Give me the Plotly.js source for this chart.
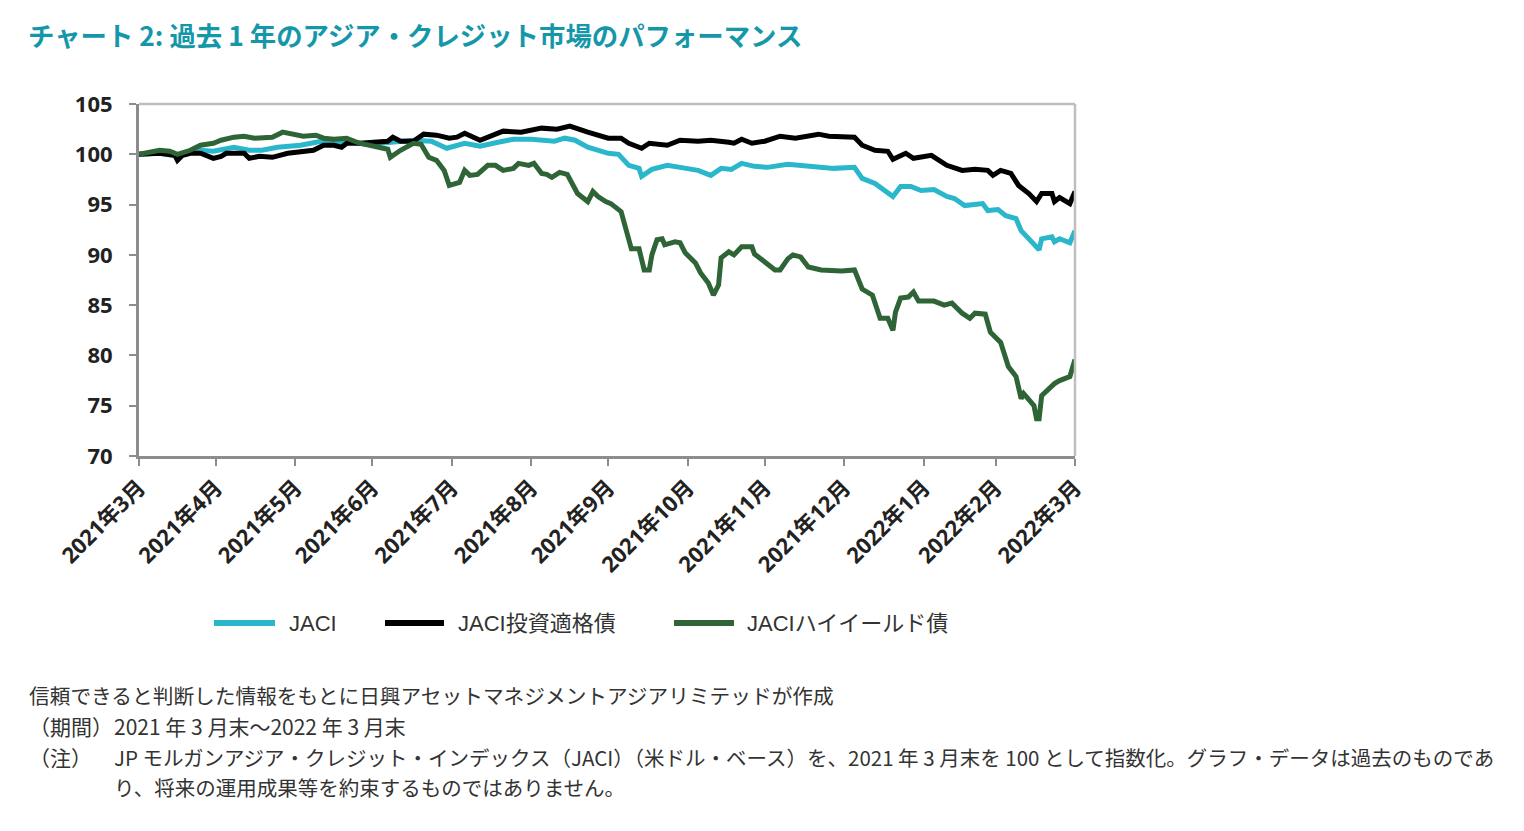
<!DOCTYPE html>
<html>
<head>
<meta charset="utf-8">
<script src="https://cdn.plot.ly/plotly-3.0.1.min.js"></script>
<style>
html,body{margin:0;padding:0;background:#fff;}
#chart{width:1524px;height:831px;}
</style>
</head>
<body>
<div id="chart"></div>
<script>
// ---- data ----
const seriesNames = ["JACI", "JACI投資適格債", "JACIハイイールド債"];

const tickDates = ["2021-03-31","2021-04-30","2021-05-31","2021-06-30","2021-07-31","2021-08-31","2021-09-30","2021-10-31","2021-11-30","2021-12-31","2022-01-31","2022-02-28","2022-03-31"];
const tickLabels = ["2021年3月","2021年4月","2021年5月","2021年6月","2021年7月","2021年8月","2021年9月","2021年10月","2021年11月","2021年12月","2022年1月","2022年2月","2022年3月"];
const yTicks = [70,75,80,85,90,95,100,105];

const jaciDates = ["2021-03-31","2021-04-08","2021-04-15","2021-04-20","2021-04-24","2021-04-29","2021-05-07","2021-05-13","2021-05-18","2021-05-24","2021-06-02","2021-06-10","2021-06-15","2021-06-20","2021-06-25","2021-06-30","2021-07-03","2021-07-08","2021-07-16","2021-07-23","2021-07-29","2021-08-05","2021-08-11","2021-08-18","2021-08-24","2021-08-31","2021-09-09","2021-09-13","2021-09-17","2021-09-22","2021-09-30","2021-10-04","2021-10-08","2021-10-12","2021-10-13","2021-10-17","2021-10-23","2021-10-28","2021-11-04","2021-11-09","2021-11-13","2021-11-17","2021-11-21","2021-11-26","2021-12-01","2021-12-09","2021-12-17","2021-12-21","2021-12-27","2022-01-04","2022-01-07","2022-01-12","2022-01-16","2022-01-19","2022-01-22","2022-01-26","2022-01-30","2022-02-04","2022-02-09","2022-02-12","2022-02-16","2022-02-23","2022-02-25","2022-03-01","2022-03-04","2022-03-08","2022-03-10","2022-03-13","2022-03-17","2022-03-18","2022-03-22","2022-03-23","2022-03-25","2022-03-29","2022-03-31"];
const jaciVals = [100.0,100.1,99.8,100.1,100.4,100.3,100.7,100.4,100.4,100.7,100.9,101.3,101.2,101.3,101.1,100.9,101.1,101.2,101.4,101.3,100.6,101.1,100.8,101.2,101.5,101.5,101.3,101.6,101.4,100.7,100.1,100.0,98.9,98.6,97.8,98.5,98.9,98.7,98.4,97.9,98.6,98.5,99.1,98.8,98.7,99.0,98.8,98.8,98.6,98.7,97.6,97.1,96.4,95.8,96.8,96.8,96.4,96.5,95.8,95.6,94.9,95.1,94.4,94.5,93.9,93.6,92.4,91.6,90.5,91.6,91.8,91.3,91.6,91.2,92.4];

const igDates = ["2021-03-31","2021-04-08","2021-04-14","2021-04-15","2021-04-17","2021-04-20","2021-04-24","2021-04-29","2021-05-02","2021-05-04","2021-05-11","2021-05-13","2021-05-17","2021-05-22","2021-05-28","2021-06-02","2021-06-07","2021-06-11","2021-06-15","2021-06-18","2021-06-20","2021-06-25","2021-07-03","2021-07-06","2021-07-08","2021-07-11","2021-07-16","2021-07-20","2021-07-25","2021-07-30","2021-08-02","2021-08-05","2021-08-11","2021-08-20","2021-08-27","2021-09-04","2021-09-10","2021-09-15","2021-09-22","2021-09-26","2021-09-30","2021-10-05","2021-10-08","2021-10-13","2021-10-16","2021-10-23","2021-10-28","2021-11-04","2021-11-09","2021-11-16","2021-11-18","2021-11-21","2021-11-25","2021-11-30","2021-12-06","2021-12-12","2021-12-21","2021-12-25","2022-01-04","2022-01-07","2022-01-12","2022-01-17","2022-01-19","2022-01-24","2022-01-27","2022-02-03","2022-02-09","2022-02-15","2022-02-20","2022-02-25","2022-02-27","2022-03-02","2022-03-06","2022-03-09","2022-03-13","2022-03-16","2022-03-18","2022-03-22","2022-03-23","2022-03-25","2022-03-29","2022-03-31"];
const igVals = [100.0,100.1,99.9,99.4,99.9,100.1,100.1,99.6,99.8,100.1,100.1,99.6,99.8,99.7,100.1,100.2,100.4,100.9,100.9,100.7,101.1,101.1,101.2,101.3,101.7,101.3,101.3,102.0,101.9,101.6,101.7,102.1,101.4,102.3,102.2,102.6,102.5,102.8,102.2,101.9,101.6,101.6,101.1,100.6,101.1,100.9,101.4,101.3,101.4,101.2,101.1,101.5,101.1,101.3,101.8,101.6,102.0,101.8,101.7,100.9,100.4,100.3,99.5,100.1,99.6,99.9,98.9,98.4,98.5,98.4,97.9,98.4,98.1,96.9,96.1,95.3,96.1,96.1,95.3,95.7,95.1,96.3];

const hyDates = ["2021-03-31","2021-04-08","2021-04-12","2021-04-15","2021-04-20","2021-04-24","2021-04-29","2021-05-02","2021-05-07","2021-05-11","2021-05-15","2021-05-22","2021-05-26","2021-05-30","2021-06-03","2021-06-08","2021-06-11","2021-06-15","2021-06-20","2021-06-25","2021-07-01","2021-07-06","2021-07-07","2021-07-11","2021-07-16","2021-07-19","2021-07-22","2021-07-25","2021-07-28","2021-07-30","2021-08-03","2021-08-05","2021-08-07","2021-08-10","2021-08-14","2021-08-17","2021-08-20","2021-08-24","2021-08-26","2021-08-30","2021-09-01","2021-09-04","2021-09-06","2021-09-08","2021-09-11","2021-09-14","2021-09-18","2021-09-22","2021-09-24","2021-09-26","2021-09-29","2021-10-01","2021-10-05","2021-10-07","2021-10-09","2021-10-12","2021-10-14","2021-10-16","2021-10-17","2021-10-19","2021-10-21","2021-10-22","2021-10-26","2021-10-28","2021-10-30","2021-11-03","2021-11-05","2021-11-08","2021-11-10","2021-11-12","2021-11-13","2021-11-16","2021-11-18","2021-11-21","2021-11-25","2021-11-26","2021-11-30","2021-12-04","2021-12-06","2021-12-09","2021-12-11","2021-12-14","2021-12-17","2021-12-22","2021-12-30","2022-01-04","2022-01-07","2022-01-11","2022-01-14","2022-01-17","2022-01-19","2022-01-20","2022-01-22","2022-01-25","2022-01-27","2022-01-29","2022-02-04","2022-02-08","2022-02-11","2022-02-15","2022-02-18","2022-02-20","2022-02-24","2022-02-26","2022-03-02","2022-03-05","2022-03-08","2022-03-10","2022-03-11","2022-03-15","2022-03-16","2022-03-17","2022-03-18","2022-03-23","2022-03-25","2022-03-29","2022-03-31"];
const hyVals = [100.0,100.4,100.3,100.0,100.4,100.9,101.1,101.4,101.7,101.8,101.6,101.7,102.2,102.0,101.8,101.9,101.6,101.5,101.6,101.1,100.8,100.5,99.7,100.4,101.1,101.0,99.7,99.4,98.4,96.9,97.2,98.4,97.9,98.0,98.9,98.9,98.4,98.6,99.1,98.9,99.1,98.1,98.0,97.7,98.2,98.0,96.1,95.3,96.3,95.8,95.3,95.1,94.3,92.3,90.6,90.6,88.5,88.5,90.0,91.5,91.6,91.0,91.3,91.2,90.2,89.2,88.2,87.2,86.0,87.0,89.7,90.3,90.0,90.8,90.8,90.1,89.3,88.5,88.5,89.6,90.0,89.8,88.8,88.5,88.4,88.5,86.6,86.0,83.7,83.7,82.5,84.3,85.7,85.8,86.3,85.4,85.4,85.0,85.2,84.2,83.7,84.2,84.1,82.3,81.3,78.9,77.9,75.7,76.2,75.0,73.7,73.7,76.0,77.2,77.5,77.9,79.6];

const titleText = "チャート 2: 過去 1 年のアジア・クレジット市場のパフォーマンス";
const noteSource = "信頼できると判断した情報をもとに日興アセットマネジメントアジアリミテッドが作成";
const notePeriodLabel = "（期間）";
const notePeriod = "2021 年 3 月末～2022 年 3 月末";
const noteLabel = "（注）";
const noteLine1 = "JP モルガンアジア・クレジット・インデックス（JACI）（米ドル・ベース）を、2021 年 3 月末を 100 として指数化。グラフ・データは過去のものであ";
const noteLine2 = "り、将来の運用成果等を約束するものではありません。";

// ---- styles ----
const colors = ["#2bb7cb", "#000000", "#2f6436"];
const W = 1524, H = 831;
const L = 139, R = 1075, T = 104, B = 456;
const pw = R - L, ph = B - T;
const px = x => (x - L) / pw;
const py = y => (B - y) / ph;
const CJK = '"Noto Sans CJK JP", "Noto Sans", sans-serif';
const LAT = '"Liberation Sans", Arial, "Noto Sans CJK JP", sans-serif';
const BOLD = '"Open Sans", "Noto Sans CJK JP", sans-serif';

const traces = [
  {x: jaciDates, y: jaciVals, name: seriesNames[0], mode: "lines", line: {color: colors[0], width: 5}},
  {x: igDates, y: igVals, name: seriesNames[1], mode: "lines", line: {color: colors[1], width: 5}},
  {x: hyDates, y: hyVals, name: seriesNames[2], mode: "lines", line: {color: colors[2], width: 5}}
];

const shapes = [
  {type: "line", xref: "paper", yref: "paper", x0: 0, x1: 1, y0: 1, y1: 1, line: {color: "#bfbfbf", width: 2.5}},
  {type: "line", xref: "paper", yref: "paper", x0: 1, x1: 1, y0: 0, y1: 1, line: {color: "#bfbfbf", width: 2.5}}
];
const annotations = [];

// legend (manual, to match long line symbols)
const legendItems = [
  {x0: 214, x1: 275, tx: 287},
  {x0: 385, x1: 444, tx: 456},
  {x0: 674, x1: 734, tx: 745}
];
const legY = 623;
legendItems.forEach((it, i) => {
  shapes.push({type: "line", xref: "paper", yref: "paper", x0: px(it.x0), x1: px(it.x1), y0: py(legY), y1: py(legY), line: {color: colors[i], width: 6}});
  annotations.push({xref: "paper", yref: "paper", x: px(it.tx), y: py(legY), xanchor: "left", yanchor: "middle", showarrow: false, text: seriesNames[i], font: {family: LAT, size: 22, color: "#333"}});
});

function note(xp, yp, text, size) {
  annotations.push({xref: "paper", yref: "paper", x: px(xp), y: py(yp), xanchor: "left", yanchor: "middle", showarrow: false, text: text,
    font: {family: CJK, size: size || 21, color: "#333"}});
}
note(27, 695, noteSource, 20.7);
note(27, 726, notePeriodLabel);
note(112, 726, notePeriod);
note(27, 757, noteLabel);
note(112, 757, noteLine1, 20.5);
note(112, 787, noteLine2, 20.5);

const layout = {
  width: W, height: H,
  margin: {l: L, r: W - R, t: T, b: H - B, pad: 0},
  paper_bgcolor: "#fff", plot_bgcolor: "#fff",
  showlegend: false,
  title: {text: "<b>" + titleText + "</b>", x: 28 / W, xanchor: "left", xref: "container", y: 1 - 37 / H, yanchor: "middle", yref: "container",
          font: {family: CJK, size: 26.4, color: "#1597aa"}},
  xaxis: {
    type: "date", range: [tickDates[0], tickDates[tickDates.length - 1]],
    tickmode: "array", tickvals: tickDates, ticktext: tickLabels.map(t => "<b>" + t + "</b>"),
    tickangle: -45, ticks: "outside", ticklen: 7, tickwidth: 2, tickcolor: "#8c8c8c",
    showline: true, linecolor: "#8c8c8c", linewidth: 3, showgrid: false, zeroline: false,
    tickfont: {family: BOLD, size: 22, color: "#222"}, fixedrange: true
  },
  yaxis: {
    range: [70, 105], tickmode: "array", tickvals: yTicks, ticktext: yTicks.map(v => "<b>" + v + "</b>"),
    ticks: "outside", ticklen: 7, tickwidth: 2, tickcolor: "#8c8c8c", ticklabelstandoff: 12,
    showline: true, linecolor: "#8c8c8c", linewidth: 3, showgrid: false, zeroline: false,
    tickfont: {family: BOLD, size: 22, color: "#222"}, fixedrange: true
  },
  shapes: shapes,
  annotations: annotations
};

Plotly.newPlot("chart", traces, layout, {displayModeBar: false, staticPlot: true});
</script>
</body>
</html>
